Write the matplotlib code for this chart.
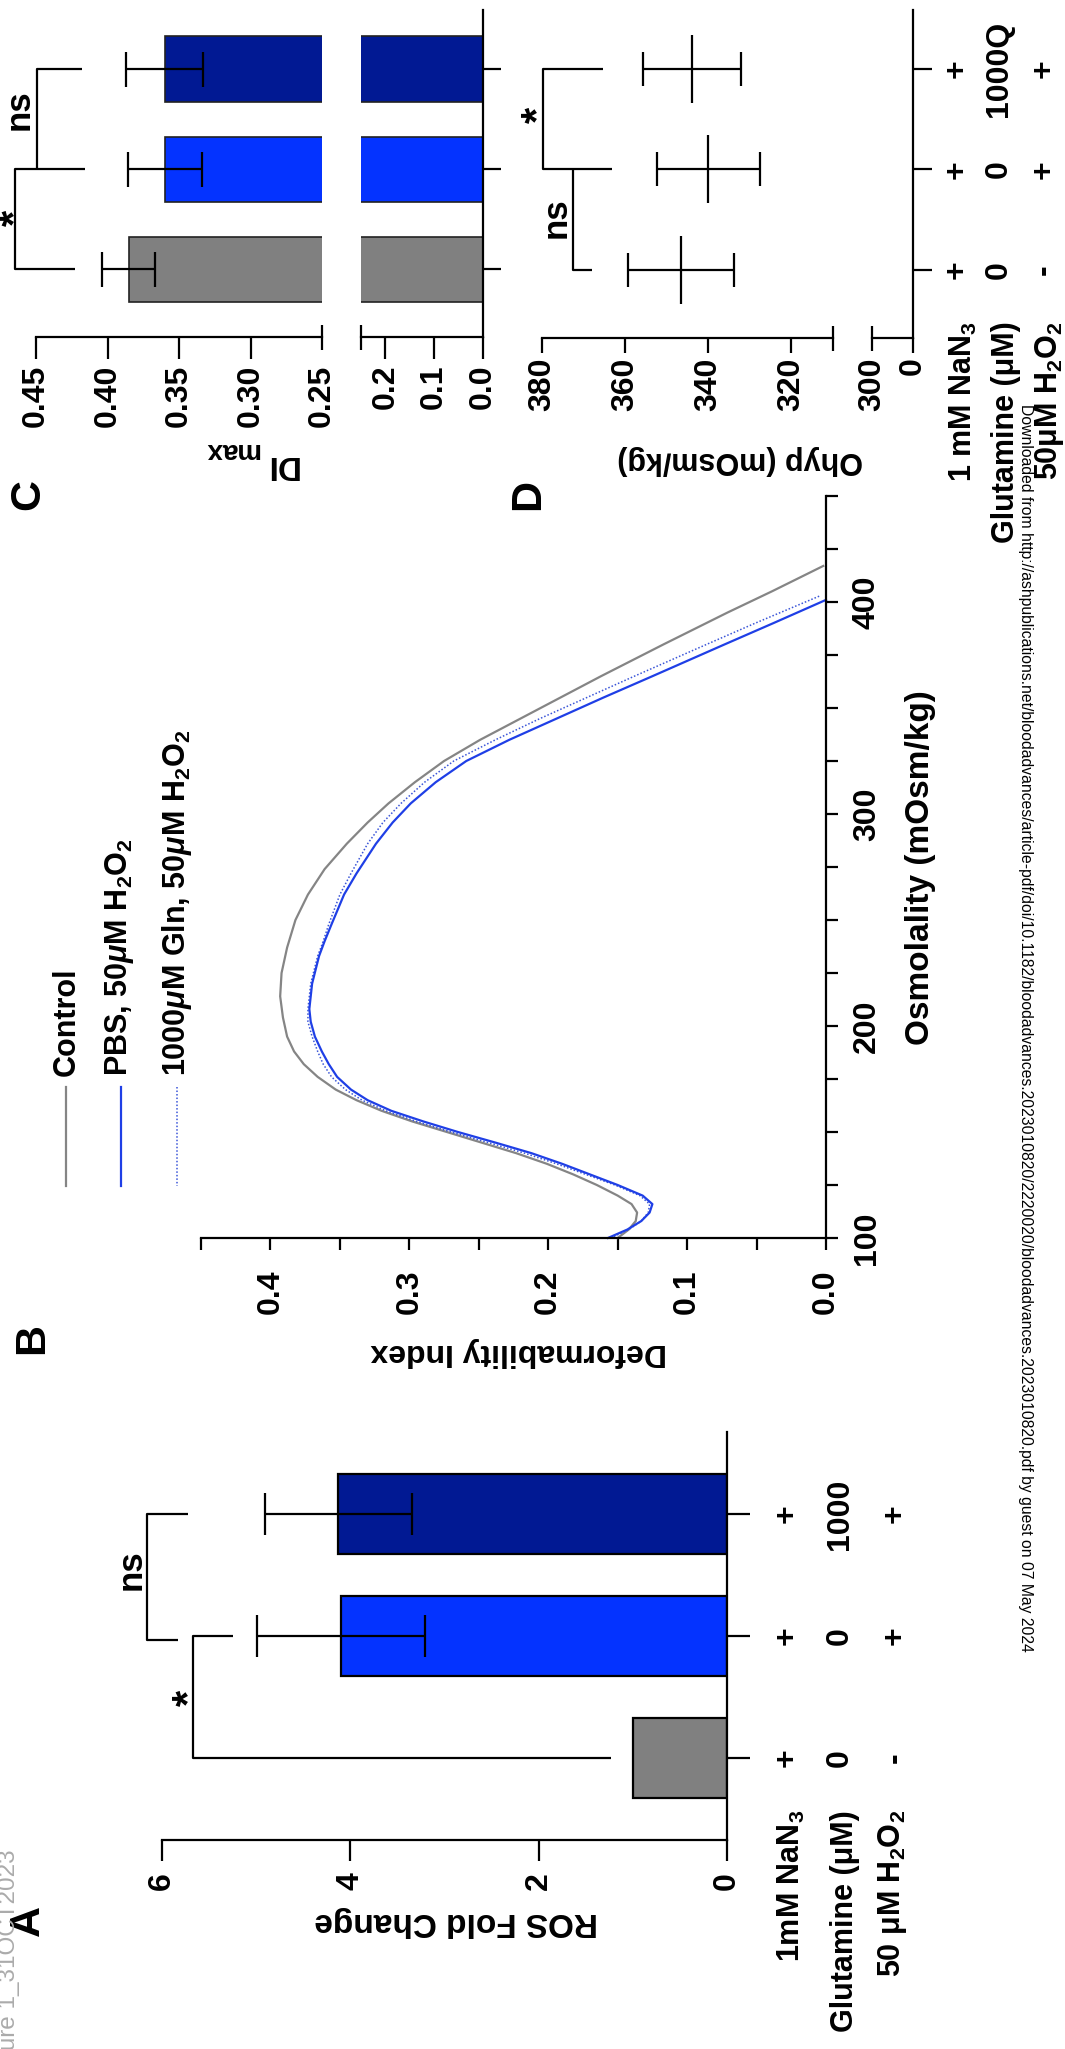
import matplotlib
matplotlib.use('Agg')
import matplotlib.pyplot as plt
from matplotlib.lines import Line2D
from matplotlib.transforms import blended_transform_factory
import numpy as np

plt.rcParams['font.family'] = 'Liberation Sans'
plt.rcParams['font.weight'] = 'bold'
plt.rcParams['mathtext.fontset'] = 'custom'
plt.rcParams['mathtext.rm'] = 'Liberation Sans:bold'
plt.rcParams['mathtext.it'] = 'Liberation Sans:italic:bold'
plt.rcParams['mathtext.bf'] = 'Liberation Sans:bold'
plt.rcParams['mathtext.default'] = 'rm'

# ---- data ----
bar_colors = ['#808080', '#0433ff', '#011993']
cat_pos = [0, 1, 2]

# A: ROS fold change
ros_mean = [1.0, 4.10, 4.13]
ros_err = [0.0, 0.89, 0.78]

# C: DI max
dimax_mean = [0.385, 0.360, 0.360]
dimax_err = [0.0185, 0.026, 0.027]

# D: Ohyp
ohyp_mean = [346.5, 340.0, 343.9]
ohyp_err = [12.7, 12.4, 11.8]

# condition table rows
nan3_row = ['+', '+', '+']
gln_row_A = ['0', '0', '1000']
gln_row_D = ['0', '0', '1000Q']
h2o2_row = ['-', '+', '+']

# B: osmoscan curves (osmolality, DI)
osm_ctrl = [100, 104, 108, 112, 116, 120, 125, 130, 135, 140, 145, 150, 155, 160, 165, 170, 176,
            182, 188, 195, 204, 214, 225, 237, 250, 262, 274, 286, 296, 305, 315, 325, 335, 345,
            355, 365, 380, 395, 405, 417]
di_ctrl = [0.150, 0.142, 0.137, 0.136, 0.140, 0.150, 0.165, 0.182, 0.201, 0.223, 0.248, 0.273,
           0.298, 0.320, 0.338, 0.353, 0.366, 0.376, 0.383, 0.388, 0.391, 0.393, 0.392, 0.388,
           0.382, 0.373, 0.361, 0.345, 0.330, 0.315, 0.296, 0.275, 0.249, 0.220, 0.191, 0.162,
           0.117, 0.071, 0.039, 0.002]

osm_pbs = [100, 104, 108, 112, 116, 120, 125, 130, 135, 140, 145, 150, 155, 160, 165, 170, 176,
           182, 188, 195, 202, 208, 220, 233, 240, 248, 262, 272, 286, 296, 305, 315, 325, 335,
           345, 355, 365, 380, 390, 401]
di_pbs = [0.157, 0.143, 0.133, 0.127, 0.125, 0.132, 0.150, 0.170, 0.190, 0.212, 0.238, 0.265,
          0.290, 0.313, 0.330, 0.342, 0.352, 0.358, 0.363, 0.368, 0.371, 0.372, 0.370, 0.365,
          0.361, 0.356, 0.347, 0.338, 0.324, 0.312, 0.299, 0.281, 0.259, 0.228, 0.194, 0.160,
          0.125, 0.073, 0.038, 0.000]

osm_gln = [100, 104, 108, 112, 116, 120, 125, 130, 135, 140, 145, 150, 155, 160, 165, 170, 176,
           182, 188, 195, 202, 208, 220, 233, 240, 248, 262, 272, 286, 296, 305, 315, 325, 335,
           345, 355, 365, 380, 390, 403]
di_gln = [0.155, 0.142, 0.133, 0.128, 0.127, 0.134, 0.152, 0.173, 0.194, 0.217, 0.243, 0.270,
          0.295, 0.317, 0.334, 0.346, 0.356, 0.362, 0.366, 0.370, 0.373, 0.373, 0.371, 0.366,
          0.362, 0.358, 0.350, 0.342, 0.330, 0.319, 0.306, 0.289, 0.268, 0.238, 0.206, 0.172,
          0.138, 0.086, 0.051, 0.004]

legend_labels = ['Control',
                 'PBS, 50$\\mathit{\\mu}$M H$_2$O$_2$',
                 '1000$\\mathit{\\mu}$M Gln, 50$\\mathit{\\mu}$M H$_2$O$_2$']

W, H = 1065, 2049
LW = 1.6
FS = 23

fig = plt.figure(figsize=(W / 100, H / 100), dpi=100)
fig.patch.set_facecolor('white')


def rect(l, t, r, b):
    return [l / W, 1 - b / H, (r - l) / W, (b - t) / H]


def fx(x):
    return x / W


def fy(y):
    return 1 - y / H


def base_axes(ax):
    ax.patch.set_visible(False)
    for s in ['top', 'left', 'right']:
        ax.spines[s].set_visible(False)
    ax.spines['bottom'].set_linewidth(LW)
    ax.spines['right'].set_linewidth(LW)


def break_cap(ax, xval):
    tr = blended_transform_factory(ax.transData, ax.transAxes)
    ax.plot([xval], [0], transform=tr, marker='|', ms=18, mew=LW, color='black', clip_on=False)


def bracket(ax, xs, ys):
    ax.plot(xs, ys, color='black', lw=LW, clip_on=False, solid_capstyle='butt')


def star(ax, x, y, s='*', size=30):
    ax.text(x, y, s, rotation=90, ha='center', va='center', fontsize=size, clip_on=False)


# ================= Panel A =================
axA = fig.add_axes(rect(162, 1432, 727, 1840))
base_axes(axA)
axA.spines['right'].set_visible(True)
axA.barh(cat_pos, ros_mean, height=0.656, color=bar_colors, edgecolor='black', linewidth=LW, zorder=2)
for i in range(3):
    if ros_err[i] > 0:
        axA.errorbar(ros_mean[i], cat_pos[i], xerr=ros_err[i], fmt='none', ecolor='black',
                     elinewidth=LW, capsize=15, capthick=LW, zorder=3, clip_on=False)
axA.set_xlim(6, 0)
axA.set_ylim(-0.672, 2.672)
axA.set_xticks([0, 2, 4, 6])
axA.set_xticklabels(['0', '2', '4', '6'])
axA.tick_params(axis='x', length=15, width=LW, pad=8, labelsize=FS, labelrotation=90)
axA.yaxis.tick_right()
axA.set_yticks(cat_pos)
axA.set_yticklabels([])
axA.tick_params(axis='y', length=16.5, width=LW)

bracket(axA, [1.23, 5.673, 5.673, 5.249], [0, 0, 1, 1])
bracket(axA, [5.832, 6.161, 6.161, 5.726], [0.967, 0.967, 2, 2])
star(axA, 5.70, 0.49)
star(axA, 6.33, 1.54, 'ns', 25)

trA = blended_transform_factory(fig.transFigure, axA.transData)
rowsA = [(nan3_row, 787, 800, '1mM NaN$_3$'),
         (gln_row_A, 840, 853, 'Glutamine (μM)'),
         (h2o2_row, 895, 900, '50 μM H$_2$O$_2$')]
for vals, xc, xb, lab in rowsA:
    for i, v in enumerate(vals):
        axA.text(fx(xc), cat_pos[i], v, transform=trA, rotation=90, ha='center', va='center', fontsize=FS)
    fig.text(fx(xb), fy(1810), lab, rotation=90, rotation_mode='anchor', ha='right', va='baseline',
             fontsize=22)

fig.text(fx(456), fy(1922), 'ROS Fold Change', rotation=180, ha='center', va='center', fontsize=FS + 1)
fig.text(fx(28), fy(1921), 'A', rotation=90, ha='center', va='center', fontsize=31)

# ================= Panel B =================
axB = fig.add_axes(rect(201, 496, 826, 1238))
base_axes(axB)
axB.spines['right'].set_visible(True)
axB.plot(di_ctrl, osm_ctrl, color='#858585', lw=1.6, clip_on=False)
axB.plot(di_gln, osm_gln, color='#3a55d8', lw=1.1, ls=(0, (1, 1.3)), clip_on=False)
axB.plot(di_pbs, osm_pbs, color='#1f3fe6', lw=1.6, clip_on=False)
axB.set_xlim(0.45, 0)
axB.set_ylim(100, 450)
xt = np.round(np.arange(0, 0.451, 0.05), 2)
axB.set_xticks(xt)
axB.set_xticklabels(['%.1f' % v if i % 2 == 0 else '' for i, v in enumerate(xt)])
axB.tick_params(axis='x', length=8.6, width=LW, pad=14, labelsize=FS, labelrotation=90)
yt = np.arange(100, 451, 25)
axB.yaxis.tick_right()
axB.set_yticks(yt)
axB.set_yticklabels(['%d' % v if v % 100 == 0 else '' for v in yt])
axB.tick_params(axis='y', length=8.6, width=LW, pad=10, labelsize=FS, labelrotation=90)
for lab in axB.get_yticklabels():
    lab.set_va('center')
    lab.set_ha('left')

fig.text(fx(921), fy(868), 'Osmolality (mOsm/kg)', rotation=90, ha='center', va='center', fontsize=FS + 1)
fig.text(fx(519), fy(1352), 'Deformability Index', rotation=180, ha='center', va='center', fontsize=FS)
fig.text(fx(32), fy(1338), 'B', rotation=90, ha='center', va='center', fontsize=31)

leg_styles = [dict(color='#858585', lw=1.6), dict(color='#1f3fe6', lw=1.6),
              dict(color='#3a55d8', lw=1.1, ls=(0, (1, 1.3)))]
for k, (lab, st, xl, xb) in enumerate(zip(legend_labels, leg_styles, [66, 121, 177], [75, 127, 185])):
    fig.add_artist(Line2D([fx(xl), fx(xl)], [fy(1087), fy(1186)], transform=fig.transFigure, **st))
    fig.text(fx(xb), fy(1076), lab, rotation=90, rotation_mode='anchor', ha='left', va='baseline',
             fontsize=22)

# ================= Panel C =================
axC1 = fig.add_axes(rect(36, 10, 322, 337))
axC2 = fig.add_axes(rect(361, 10, 483, 337))
for ax in (axC1, axC2):
    base_axes(ax)
    ax.barh(cat_pos, dimax_mean, height=0.65, color=bar_colors, edgecolor='#222222', linewidth=1.2, zorder=2)
    ax.set_ylim(-0.68, 2.59)
    ax.tick_params(axis='x', length=15.8, width=LW, pad=4, labelsize=FS, labelrotation=90)
axC1.errorbar(dimax_mean, cat_pos, xerr=dimax_err, fmt='none', ecolor='black', elinewidth=LW,
              capsize=12.6, capthick=LW, zorder=3)
axC1.set_xlim(0.45, 0.25)
axC1.set_xticks([0.25, 0.30, 0.35, 0.40, 0.45])
axC1.set_xticklabels(['0.25', '0.30', '0.35', '0.40', '0.45'])
axC1.xaxis.get_major_ticks()[0].tick1line.set_visible(False)
axC1.set_yticks([])
break_cap(axC1, 0.25)
axC2.set_xlim(0.25, 0)
axC2.set_xticks([0, 0.1, 0.2])
axC2.set_xticklabels(['0.0', '0.1', '0.2'])
axC2.spines['right'].set_visible(True)
axC2.yaxis.tick_right()
axC2.set_yticks(cat_pos)
axC2.set_yticklabels([])
axC2.tick_params(axis='y', length=13, width=LW)
break_cap(axC2, 0.25)

bracket(axC1, [0.423, 0.465, 0.465, 0.4154], [0, 0, 1, 1])
bracket(axC1, [0.4496, 0.4496, 0.4175], [1, 2, 2])
star(axC1, 0.464, 0.51)
star(axC1, 0.462, 1.59, 'ns', 25)

fig.text(fx(281), fy(464), 'DI', rotation=180, ha='center', va='center', fontsize=FS + 1)
fig.text(fx(231), fy(450), 'max', rotation=180, ha='center', va='center', fontsize=20)
fig.text(fx(28), fy(495), 'C', rotation=90, ha='center', va='center', fontsize=31)

# ================= Panel D =================
axD1 = fig.add_axes(rect(542, 10, 833, 338))
axD2 = fig.add_axes(rect(872, 10, 913, 338))
for ax in (axD1, axD2):
    base_axes(ax)
    ax.set_ylim(-0.68, 2.59)
    ax.tick_params(axis='x', length=10.8, width=LW, pad=3, labelsize=FS, labelrotation=90)
axD1.errorbar(ohyp_mean, cat_pos, xerr=ohyp_err, fmt='none', ecolor='black', elinewidth=LW,
              capsize=12.2, capthick=LW)
axD1.plot(ohyp_mean, cat_pos, ls='none', marker='|', ms=49, mew=LW, color='black')
axD1.set_xlim(380, 310)
axD1.set_xticks([320, 340, 360, 380])
axD1.set_yticks([])
break_cap(axD1, 310)
axD2.set_xlim(300, 0)
axD2.set_xticks([0, 300])
axD2.set_xticklabels(['0', '300'])
axD2.xaxis.get_major_ticks()[1].tick1line.set_visible(False)
axD2.spines['right'].set_visible(True)
axD2.yaxis.tick_right()
axD2.set_yticks(cat_pos)
axD2.set_yticklabels([])
axD2.tick_params(axis='y', length=13.5, width=LW)
break_cap(axD2, 300)

bracket(axD1, [368.0, 372.6, 372.6], [0, 0, 1])
bracket(axD1, [363.2, 379.8, 379.8, 365.4], [1, 1, 2, 2])
star(axD1, 376.6, 0.52, 'ns', 25)
star(axD1, 380.6, 1.545)

trD = blended_transform_factory(fig.transFigure, axD2.transData)
rowsD = [(nan3_row, 957, 972, '1 mM NaN$_3$'),
         (gln_row_D, 999, 1014, 'Glutamine (μM)'),
         (h2o2_row, 1044, 1057, '50μM H$_2$O$_2$')]
for vals, xc, xb, lab in rowsD:
    for i, v in enumerate(vals):
        axD2.text(fx(xc), cat_pos[i], v, transform=trD, rotation=90, ha='center', va='center', fontsize=FS)
    fig.text(fx(xb), fy(321), lab, rotation=90, rotation_mode='anchor', ha='right', va='baseline',
             fontsize=22)

fig.text(fx(740), fy(460), 'Ohyp (mOsm/kg)', rotation=180, ha='center', va='center', fontsize=FS - 1)
fig.text(fx(528), fy(495), 'D', rotation=90, ha='center', va='center', fontsize=31)

# ================= page marks =================
wm_text = ('Downloaded from http://ashpublications.net/bloodadvances/article-pdf/doi/10.1182/'
           'bloodadvances.2023010820/2220020/bloodadvances.2023010820.pdf by guest on 07 May 2024')
wm = fig.text(fx(1026), fy(404), wm_text, rotation=-90, rotation_mode='anchor', ha='left', va='center',
              fontsize=12, fontweight='normal', family=['Liberation Sans Narrow', 'Liberation Sans'])
fig.text(fx(15), fy(1849), 'Figure 1_31OCT2023', rotation=90, rotation_mode='anchor', ha='right',
         va='baseline', fontsize=17.5, fontweight='normal', color='#ababab')

fig.canvas.draw()
ext = wm.get_window_extent()
wm.set_fontsize(12 * 1253 / ext.height)

fig.savefig('out.png', dpi=100, facecolor='white')
